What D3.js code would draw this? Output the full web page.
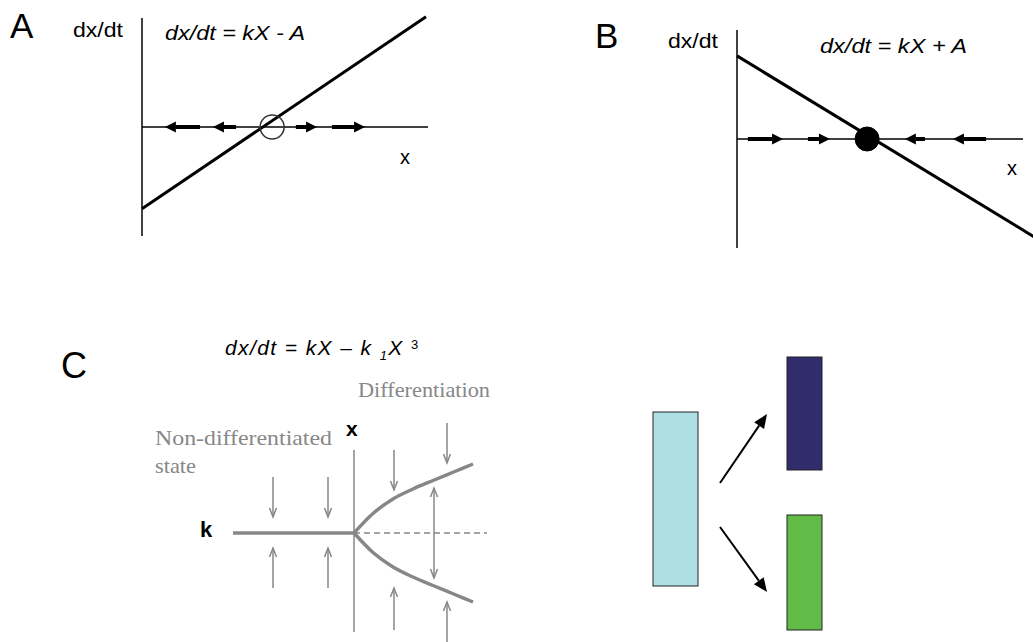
<!DOCTYPE html>
<html>
<head>
<meta charset="utf-8">
<script src="https://cdn.jsdelivr.net/npm/d3@7"></script>
<style>
  body { margin: 0; background: #fff; }
  svg { display: block; }
</style>
</head>
<body>
<script>
// ==========================================
// 1. DATA (in each panel's own units)
// ==========================================

// Panel A: dx/dt = kX - A  (unstable fixed point)
const lineA = [{x: 0, y: -3.0}, {x: 9.93, y: 4.05}];
const pointA = {x: 4.55, y: 0};
const arrowsA = [[2.03, 0.80], [3.29, 2.48], [5.38, 6.12], [6.64, 7.80]]; // [tail, tip]

// Panel B: dx/dt = kX + A  (stable fixed point)
const lineB = [{x: 0, y: 3.05}, {x: 10.4, y: -3.6}];
const pointB = {x: 4.55, y: 0};
const arrowsB = [[0.38, 1.61], [2.48, 3.25], [6.57, 5.87], [8.71, 7.55]];

// Panel C: pitchfork, k on horizontal, x on vertical
const trunkC = [{k: -4.84, x: 0}, {k: 0, x: 0}];
const dashedC = [{k: 0, x: 0}, {k: 5.32, x: 0}];
const branchUpper = [
  {k: 0, x: 0}, {k: 0.76, x: 0.78}, {k: 1.56, x: 1.36}, {k: 2.36, x: 1.76},
  {k: 3.16, x: 2.10}, {k: 3.96, x: 2.43}, {k: 4.76, x: 2.76}
];
const branchLower = [
  {k: 0, x: 0}, {k: 0.76, x: -0.78}, {k: 1.56, x: -1.36}, {k: 2.36, x: -1.76},
  {k: 3.16, x: -2.10}, {k: 3.96, x: -2.43}, {k: 4.76, x: -2.76}
];
const axisC = {top: 3.32, bottom: -3.96};
// flow arrows: at k, from x to x
const arrowsC = [
  {k: -3.24, from: 2.24, to: 0.64}, {k: -1.04, from: 2.24, to: 0.64},
  {k: -3.24, from: -2.2, to: -0.6}, {k: -1.04, from: -2.2, to: -0.6},
  {k: 1.60, from: 3.32, to: 1.72}, {k: 3.72, from: 4.40, to: 2.80},
  {k: 1.60, from: -3.88, to: -2.2}, {k: 3.72, from: -4.36, to: -2.76},
  {k: 3.20, from: 0, to: 1.80}, {k: 3.20, from: 0, to: -1.80}
];

// Panel D: cell fate boxes
const cellNames = ["progenitor", "fateA", "fateB"];
const cellBoxes = [
  {name: "progenitor", x0: 0.65, x1: 2.9, y0: 3.6, y1: 12.3},
  {name: "fateA", x0: 7.35, x1: 9.1, y0: 0.85, y1: 6.5},
  {name: "fateB", x0: 7.35, x1: 9.1, y0: 8.75, y1: 14.5}
];
const fateArrows = [
  {x1: 4.0, y1: 7.15, x2: 6.35, y2: 3.7},
  {x1: 4.0, y1: 9.35, x2: 6.35, y2: 12.6}
];

// ==========================================
// 2. SETUP
// ==========================================

const width = 1033, height = 642;
const sans = "'Liberation Sans', Arial, Helvetica, sans-serif";
const serif = "'Liberation Serif', 'Times New Roman', serif";
const grey = "#878787";

const svg = d3.select("body").append("svg")
  .attr("width", width)
  .attr("height", height);

const xA = d3.scaleLinear().domain([0, 10]).range([142, 428]);
const yA = d3.scaleLinear().domain([-4, 4]).range([236, 18]);
const xB = d3.scaleLinear().domain([0, 10]).range([737, 1023]);
const yB = d3.scaleLinear().domain([-4, 4]).range([248, 30]);
const kC = d3.scaleLinear().domain([-5, 5]).range([229, 479]);
const xC = d3.scaleLinear().domain([-4, 4]).range([633, 433]);
const xD = d3.scaleLinear().domain([0, 10]).range([640, 840]);
const yD = d3.scaleLinear().domain([0, 15]).range([340, 640]);

const cellColor = d3.scaleOrdinal().domain(cellNames).range(["#aedfe3", "#312d6d", "#61bb46"]);

// ==========================================
// 3. HELPERS
// ==========================================

function addText(x, y, str, size, opts = {}) {
  const t = svg.append("text")
    .attr("x", x).attr("y", y)
    .attr("font-family", opts.family || sans)
    .attr("font-size", size)
    .attr("font-style", opts.italic ? "italic" : "normal")
    .attr("font-weight", opts.bold ? "bold" : "normal")
    .attr("fill", opts.fill || "#000")
    .text(str);
  if (opts.len) t.attr("textLength", opts.len).attr("lengthAdjust", "spacingAndGlyphs");
  return t;
}

// thick horizontal arrow with a solid head
function fatArrow(g, tail, tip, y) {
  const dir = Math.sign(tip - tail);
  const head = 11, half = 5.5;
  const base = tip - dir * head;
  g.append("line")
    .attr("x1", tail).attr("x2", base)
    .attr("y1", y).attr("y2", y)
    .attr("stroke", "#000").attr("stroke-width", 4);
  g.append("path")
    .attr("d", `M${tip},${y}L${base},${y - half}L${base},${y + half}Z`)
    .attr("fill", "#000");
}

function phasePanel(xs, ys, line, point, arrows, filled) {
  const g = svg.append("g");
  // axes
  g.append("line")
    .attr("x1", xs(0)).attr("x2", xs(0))
    .attr("y1", ys.range()[0]).attr("y2", ys.range()[1])
    .attr("stroke", "#000").attr("stroke-width", 1.5);
  g.append("line")
    .attr("x1", xs(0)).attr("x2", xs.range()[1])
    .attr("y1", ys(0)).attr("y2", ys(0))
    .attr("stroke", "#000").attr("stroke-width", 1.5);
  // dx/dt line
  g.append("path")
    .datum(line)
    .attr("d", d3.line().x(d => xs(d.x)).y(d => ys(d.y)))
    .attr("stroke", "#000").attr("stroke-width", 3).attr("fill", "none");
  arrows.forEach(a => fatArrow(g, xs(a[0]), xs(a[1]), ys(0)));
  g.append("circle")
    .attr("cx", xs(point.x)).attr("cy", ys(point.y))
    .attr("r", 12)
    .attr("fill", filled ? "#000" : "none")
    .attr("stroke", filled ? "#000" : "#333")
    .attr("stroke-width", filled ? 1 : 1.5);
}

// ==========================================
// 4. PANELS A and B
// ==========================================

phasePanel(xA, yA, lineA, pointA, arrowsA, false);
phasePanel(xB, yB, lineB, pointB, arrowsB, true);

addText(10, 38, "A", 35);
addText(73, 37, "dx/dt", 21, {len: 50});
addText(165, 40, "dx/dt = kX - A", 20, {italic: true, len: 140});
addText(400, 164, "x", 20);

addText(595, 48, "B", 35);
addText(668, 48, "dx/dt", 21, {len: 50});
addText(820, 53, "dx/dt = kX + A", 20, {italic: true, len: 147});
addText(1007, 175, "x", 20);

// ==========================================
// 5. PANEL C (pitchfork bifurcation)
// ==========================================

const gC = svg.append("g");
const lineC = d3.line().x(d => kC(d.k)).y(d => xC(d.x));

gC.append("line")
  .attr("x1", kC(0)).attr("x2", kC(0))
  .attr("y1", xC(axisC.top)).attr("y2", xC(axisC.bottom))
  .attr("stroke", grey).attr("stroke-width", 1.5);

gC.append("path").datum(dashedC).attr("d", lineC)
  .attr("stroke", grey).attr("stroke-width", 1.3)
  .attr("stroke-dasharray", "6,4").attr("fill", "none");

gC.append("path").datum(trunkC).attr("d", lineC)
  .attr("stroke", grey).attr("stroke-width", 3.5).attr("fill", "none");

const branchLine = d3.line().x(d => kC(d.k)).y(d => xC(d.x)).curve(d3.curveMonotoneX);
[branchUpper, branchLower].forEach(b => {
  gC.append("path").datum(b)
    .attr("d", branchLine)
    .attr("stroke", grey).attr("stroke-width", 3.5).attr("fill", "none");
});

arrowsC.forEach(a => {
  const x = kC(a.k), y1 = xC(a.from), y2 = xC(a.to);
  const dir = Math.sign(y2 - y1);
  gC.append("line")
    .attr("x1", x).attr("x2", x).attr("y1", y1).attr("y2", y2)
    .attr("stroke", grey).attr("stroke-width", 1.5);
  gC.append("path")
    .attr("d", `M${x - 3.5},${y2 - dir * 9}L${x},${y2}L${x + 3.5},${y2 - dir * 9}`)
    .attr("stroke", grey).attr("stroke-width", 1.5).attr("fill", "none");
});

addText(61, 378, "C", 36);

const eqC = addText(225, 355, "dx/dt = kX \u2013 k ", 21, {italic: true})
  .attr("letter-spacing", 1.4);
eqC.append("tspan").attr("dy", 5).attr("font-size", 13).text("1");
eqC.append("tspan").attr("dy", -5).text("X ");
eqC.append("tspan").attr("dy", -6).attr("font-size", 13).attr("font-style", "normal").text("3");

addText(358, 397, "Differentiation", 21, {family: serif, fill: grey, len: 132});
addText(155, 445, "Non-differentiated", 21, {family: serif, fill: grey, len: 177});
addText(155, 473, "state", 21, {family: serif, fill: grey, len: 41});
addText(346, 436, "x", 21, {bold: true});
addText(200, 537, "k", 22, {bold: true});

// ==========================================
// 6. PANEL D (cell fates)
// ==========================================

const gD = svg.append("g");

gD.selectAll("rect")
  .data(cellBoxes)
  .join("rect")
  .attr("x", d => xD(d.x0))
  .attr("y", d => yD(d.y0))
  .attr("width", d => xD(d.x1) - xD(d.x0))
  .attr("height", d => yD(d.y1) - yD(d.y0))
  .attr("fill", d => cellColor(d.name))
  .attr("stroke", "#222")
  .attr("stroke-width", 1);

fateArrows.forEach(a => {
  const x1 = xD(a.x1), y1 = yD(a.y1), x2 = xD(a.x2), y2 = yD(a.y2);
  const ang = Math.atan2(y2 - y1, x2 - x1);
  const head = 14, half = 6;
  const bx = x2 - head * Math.cos(ang), by = y2 - head * Math.sin(ang);
  const px = -Math.sin(ang) * half, py = Math.cos(ang) * half;
  gD.append("line")
    .attr("x1", x1).attr("y1", y1).attr("x2", bx).attr("y2", by)
    .attr("stroke", "#000").attr("stroke-width", 2);
  gD.append("path")
    .attr("d", `M${x2},${y2}L${bx + px},${by + py}L${bx - px},${by - py}Z`)
    .attr("fill", "#000");
});
</script>
</body>
</html>
